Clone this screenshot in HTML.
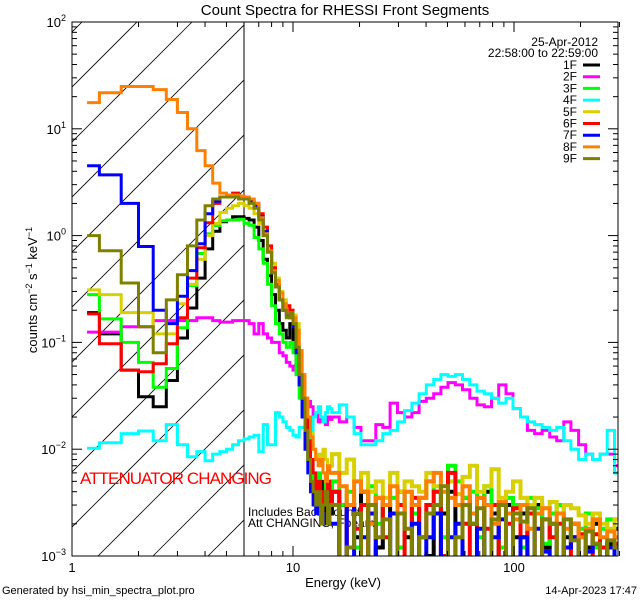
<!DOCTYPE html>
<html><head><meta charset="utf-8"><style>
body{margin:0;background:#fff}
svg{display:block}
text{font-family:"Liberation Sans",sans-serif;fill:#000}
</style></head><body>
<svg id="chart" width="640" height="600" xmlns="http://www.w3.org/2000/svg">
<defs><clipPath id="plotclip"><rect x="72" y="22" width="546" height="534"/></clipPath>
<clipPath id="hatchclip"><rect x="72" y="22" width="172" height="534"/></clipPath></defs>
<rect width="640" height="600" fill="#fff"/>
<g id="hatch" clip-path="url(#hatchclip)"></g>
<line x1="244" y1="22" x2="244" y2="556" stroke="#000" stroke-width="1"/>
<text x="80" y="484" font-size="17" textLength="192" style="fill:#f00">ATTENUATOR CHANGING</text>
<text x="248" y="516" font-size="12">Includes Background</text>
<text x="248" y="527" font-size="12">Att CHANGING, Fbeam</text>
<g id="series" clip-path="url(#plotclip)"></g>
<rect x="72" y="22" width="546" height="534" fill="none" stroke="#000" stroke-width="1"/>
<g id="axes"></g>
<text x="345" y="15" font-size="15" text-anchor="middle">Count Spectra for RHESSI Front Segments</text>
<text x="343" y="587" font-size="13" text-anchor="middle">Energy (keV)</text>
<text transform="translate(37,290) rotate(-90)" font-size="13" text-anchor="middle">counts cm<tspan dy="-5" font-size="9">−2</tspan><tspan dy="5"> s</tspan><tspan dy="-5" font-size="9">−1</tspan><tspan dy="5"> keV</tspan><tspan dy="-5" font-size="9">−1</tspan></text>
<text x="2" y="594" font-size="11">Generated by hsi_min_spectra_plot.pro</text>
<text x="637" y="594" font-size="11" text-anchor="end">14-Apr-2023 17:47</text>
<g id="legend">
<text x="598" y="46" font-size="12" text-anchor="end">25-Apr-2012</text>
<text x="598" y="57" font-size="12" text-anchor="end">22:58:00 to 22:59:00</text>
</g>
</svg>
<script>
const seriesNames=["1F","2F","3F","4F","5F","6F","7F","8F","9F"];
const seriesColors=["#000000","#ff00ff","#00ff00","#00ffff","#d8d000","#ff0000","#0000ff","#ff8000","#808000"];
const lowEdges=[1.17,1.33,1.67,2,2.33,2.67,3,3.33,3.67,4,4.33,4.67,5,5.33,5.67,6,6.33,6.67,7,7.33,7.67,8,8.33,8.67,9,9.33,9.67,10,10.33,10.67,11,11.33,11.67,12,12.33,12.67,13,13.33,13.67,14,14.33,14.67,15];
const highEdges=[15,16.2,17.5,18.9,20.3,21.9,23.7,25.5,27.5,29.7,32,34.5,37.2,40.1,43.3,46.7,50.3,54.3,58.5,63.1,68,73.4,79.1,85.3,92,99,107,115,124,134,145,156,168,181,196,211,227,245,264,285,307];
const low1F=[0.19,0.12,0.055,0.031,0.025,0.044,0.11,0.21,0.4,0.75,1.1,1.35,1.4,1.5,1.5,1.45,1.4,1.2,0.9,0.6,0.42,0.28,0.2,0.15,0.13,0.11,0.15,0.1,0.06,0.04,0.025,0.015,0.01,0.006,0.005,0.004,0.003,0.005,0.002,0.004,0.003,0.0025];
const low2F=[0.125,0.125,0.14,0.14,0.16,0.16,0.16,0.16,0.17,0.17,0.16,0.155,0.155,0.16,0.16,0.16,0.15,0.12,0.15,0.12,0.11,0.1,0.1,0.08,0.075,0.065,0.06,0.055,0.05,0.04,0.035,0.03,0.028,0.025,0.02,0.022,0.018,0.02,0.018,0.017,0.02,0.019];
const low3F=[0.28,0.166,0.1,0.065,0.038,0.057,0.137,0.34,0.68,1.04,1.24,1.38,1.4,1.4,1.42,1.3,1.25,0.96,0.75,0.55,0.35,0.22,0.15,0.12,0.1,0.09,0.1,0.08,0.05,0.03,0.02,0.012,0.008,0.006,0.005,0.004,0.006,0.003,0.004,0.005,0.003,0.004];
const low4F=[0.0102,0.0115,0.014,0.0148,0.012,0.017,0.011,0.0085,0.0095,0.0078,0.009,0.0095,0.01,0.011,0.012,0.0125,0.013,0.0135,0.0095,0.017,0.011,0.011,0.022,0.02,0.018,0.016,0.015,0.0135,0.013,0.016,0.016,0.014,0.013,0.012,0.02,0.022,0.025,0.02,0.018,0.022,0.025,0.024];
const low5F=[0.31,0.28,0.19,0.19,0.12,0.12,0.23,0.35,0.6,1.0,1.3,1.65,1.8,1.9,2.0,1.9,1.8,1.6,1.3,1.0,0.75,0.55,0.4,0.3,0.25,0.22,0.2,0.18,0.15,0.08,0.05,0.03,0.02,0.014,0.01,0.008,0.009,0.007,0.01,0.008,0.006,0.007];
const low6F=[0.185,0.097,0.055,0.053,0.063,0.097,0.17,0.4,0.77,1.32,2.0,2.3,2.4,2.5,2.3,2.3,2.2,2.0,1.6,1.2,0.8,0.5,0.35,0.25,0.2,0.22,0.2,0.15,0.09,0.05,0.03,0.02,0.012,0.008,0.006,0.004,0.005,0.003,0.004,0.003,0.005,0.003];
const low7F=[4.5,3.7,2.0,0.79,0.2,0.15,0.27,0.47,0.84,1.6,2.1,2.3,2.35,2.3,2.3,2.2,2.1,1.9,1.5,1.1,0.7,0.45,0.33,0.25,0.2,0.18,0.17,0.14,0.08,0.04,0.02,0.01,0.006,0.004,0.003,0.0025,0.003,0.002,0.0025,0.002,0.003,0.002];
const low8F=[17.6,21.8,24.9,24.9,23.3,18.8,14.2,10,6.25,4.5,3.1,2.5,2.4,2.4,2.35,2.3,2.2,2.0,1.47,1.04,0.72,0.47,0.38,0.29,0.23,0.19,0.17,0.17,0.13,0.084,0.05,0.03,0.02,0.013,0.01,0.008,0.007,0.008,0.006,0.005,0.007,0.006];
const low9F=[1.0,0.72,0.36,0.14,0.08,0.25,0.43,0.8,1.4,1.9,2.2,2.3,2.3,2.3,2.2,2.2,2.0,1.8,1.4,1.0,0.7,0.45,0.33,0.25,0.2,0.17,0.19,0.15,0.09,0.05,0.03,0.015,0.008,0.005,0.004,0.003,0.004,0.002,0.003,0.004,0.002,0.003];
const high1F=[0.004,0.0008,0.003,0.0015,0.004,0.0009,0.0012,0.003,0.0008,0.004,0.0015,0.003,0.0009,0.001,0.003,0.0025,0.004,0.0008,0.0035,0.002,0.0009,0.004,0.0025,0.0008,0.003,0.0015,0.0025,0.0009,0.003,0.0012,0.002,0.0008,0.0015,0.002,0.0009,0.0012,0.002,0.0009,0.0013,0.0018];
const high2F=[0.02,0.018,0.02,0.016,0.012,0.012,0.017,0.016,0.027,0.022,0.02,0.022,0.028,0.03,0.033,0.038,0.042,0.04,0.036,0.03,0.026,0.025,0.03,0.04,0.033,0.024,0.02,0.015,0.014,0.015,0.013,0.012,0.018,0.015,0.011,0.009,0.008,0.009,0.009,0.007];
const high3F=[0.005,0.003,0.004,0.0012,0.003,0.0045,0.002,0.003,0.0035,0.0012,0.004,0.0025,0.0035,0.005,0.004,0.0015,0.007,0.005,0.0035,0.004,0.0015,0.0045,0.003,0.0012,0.0035,0.003,0.0012,0.0035,0.0028,0.0013,0.0025,0.003,0.0012,0.002,0.0018,0.0025,0.0012,0.0018,0.0022,0.0012];
const high4F=[0.022,0.026,0.02,0.014,0.011,0.011,0.012,0.014,0.015,0.018,0.023,0.027,0.033,0.04,0.045,0.05,0.048,0.05,0.045,0.04,0.035,0.033,0.03,0.027,0.03,0.024,0.02,0.018,0.017,0.016,0.015,0.016,0.012,0.01,0.008,0.009,0.008,0.009,0.015,0.006];
const high5F=[0.009,0.006,0.008,0.005,0.006,0.004,0.005,0.0035,0.006,0.004,0.005,0.0045,0.004,0.006,0.0045,0.004,0.005,0.0038,0.0055,0.007,0.004,0.0045,0.0065,0.0035,0.004,0.005,0.0035,0.003,0.0035,0.0028,0.0032,0.0025,0.003,0.0028,0.0024,0.002,0.0025,0.002,0.0018,0.0022];
const high6F=[0.004,0.0009,0.003,0.0018,0.003,0.0008,0.0035,0.0015,0.0025,0.003,0.0009,0.0035,0.0015,0.003,0.004,0.001,0.006,0.003,0.002,0.0008,0.0035,0.0018,0.003,0.0009,0.002,0.0028,0.0015,0.0025,0.0009,0.0022,0.0015,0.002,0.0009,0.0015,0.0016,0.0009,0.0016,0.0012,0.0009,0.0013];
const high7F=[0.002,0.0007,0.003,0.0007,0.0015,0.0025,0.0007,0.0008,0.0025,0.0007,0.0009,0.002,0.0007,0.0015,0.0025,0.0007,0.0015,0.002,0.0007,0.0009,0.0018,0.0007,0.0015,0.0022,0.0007,0.0009,0.0015,0.0007,0.0018,0.0011,0.0007,0.0009,0.0012,0.0015,0.0007,0.0011,0.0013,0.0007,0.0012,0.0008];
const high8F=[0.006,0.0045,0.003,0.005,0.004,0.002,0.0035,0.003,0.0045,0.0025,0.004,0.003,0.0035,0.005,0.006,0.004,0.0035,0.003,0.0045,0.0025,0.0035,0.003,0.002,0.0032,0.0025,0.0022,0.003,0.0018,0.0025,0.0028,0.002,0.0025,0.0018,0.002,0.0015,0.0018,0.0022,0.0015,0.0017,0.0015];
const high9F=[0.003,0.0008,0.0012,0.0025,0.0008,0.003,0.0015,0.0022,0.0008,0.0025,0.0018,0.0009,0.0015,0.0025,0.003,0.0045,0.0008,0.0015,0.003,0.002,0.0028,0.0008,0.0022,0.003,0.0009,0.0025,0.0021,0.0028,0.0008,0.0022,0.002,0.0009,0.0022,0.0014,0.0008,0.0017,0.0013,0.0009,0.0014,0.0012];
const xTickLabels=["1","10","100"];
const yTickExps=["2","1","0","−1","−2","−3"];

const NS="http://www.w3.org/2000/svg";
const X0=72,XD=221,Y0=556,YD=106.8;
function xs(e){return X0+XD*Math.log10(e);}
function ys(v){return Y0-YD*(Math.log10(Math.max(v,1e-4))+3);}
function mk(tag,attrs,parent){const el=document.createElementNS(NS,tag);for(const k in attrs)el.setAttribute(k,attrs[k]);parent.appendChild(el);return el;}

const hatch=document.getElementById('hatch');
for(let c=159-55*3;c<=800;c+=55){
  const l=mk('line',{x1:c-22,y1:22,x2:c-556,y2:556,stroke:'#000','stroke-width':0.8},hatch);
  
  
}

const lows=[low1F,low2F,low3F,low4F,low5F,low6F,low7F,low8F,low9F];
const highs=[high1F,high2F,high3F,high4F,high5F,high6F,high7F,high8F,high9F];
const sg=document.getElementById('series');
lows.forEach((lo,i)=>{
  let d='';
  for(let k=0;k<lo.length;k++){
    const x1=xs(lowEdges[k]).toFixed(1),x2=xs(lowEdges[k+1]).toFixed(1),y=ys(lo[k]).toFixed(1);
    d+=(k===0?'M'+x1+' '+y:'V'+y)+'H'+x2;
  }
  const p=mk('path',{d:d,fill:'none',stroke:seriesColors[i],'stroke-width':3},sg);
  
  
  const hv=highs[i];
  let d2='M'+xs(lowEdges[lowEdges.length-2]).toFixed(1)+' '+ys(lo[lo.length-1]).toFixed(1);
  for(let k=0;k<hv.length;k++){
    d2+='H'+xs(highEdges[k]).toFixed(1)+'V'+ys(hv[k]).toFixed(1)+'H'+xs(highEdges[k+1]).toFixed(1);
  }
  const p2=mk('path',{d:d2,fill:'none',stroke:seriesColors[i],'stroke-width':(i===1||i===3)?3:4},sg);
  
  
});

const ax=document.getElementById('axes');
for(let dec=0;dec<3;dec++){
  for(let m=1;m<=9;m++){
    const e=Math.pow(10,dec)*m; if(e>300)break;
    const x=xs(e),len=m===1?10:5;
    mk('line',{x1:x,y1:556,x2:x,y2:556-len,stroke:'#000'},ax);
    mk('line',{x1:x,y1:22,x2:x,y2:22+len,stroke:'#000'},ax);
  }
}
xTickLabels.forEach((t,i)=>{
  const tx=mk('text',{x:xs(Math.pow(10,i)),y:572,'font-size':13,'text-anchor':'middle'},ax);
  tx.textContent=t;
  
  
});
for(let dec=-3;dec<2;dec++){
  for(let m=1;m<=9;m++){
    const v=Math.pow(10,dec)*m;const y=ys(v),len=m===1?10:5;
    mk('line',{x1:72,y1:y,x2:72+len,y2:y,stroke:'#000'},ax);
    mk('line',{x1:618,y1:y,x2:618-len,y2:y,stroke:'#000'},ax);
  }
}
yTickExps.forEach((t,i)=>{
  const y=ys(Math.pow(10,2-i));
  const tx=mk('text',{x:66,y:y+5,'font-size':13,'text-anchor':'end'},ax);
  
  
  tx.innerHTML='10<tspan dy="-6" font-size="9">'+t+'</tspan>';
});

const lg=document.getElementById('legend');
seriesNames.forEach((n,i)=>{
  const y=69+i*11.7;
  const t=mk('text',{x:577,y:y,'font-size':12,'text-anchor':'end'},lg);
  t.textContent=n;
  
  
  const l=mk('line',{x1:583,y1:y-4,x2:600,y2:y-4,stroke:seriesColors[i],'stroke-width':3},lg);
  
  
});
</script>
</body></html>
